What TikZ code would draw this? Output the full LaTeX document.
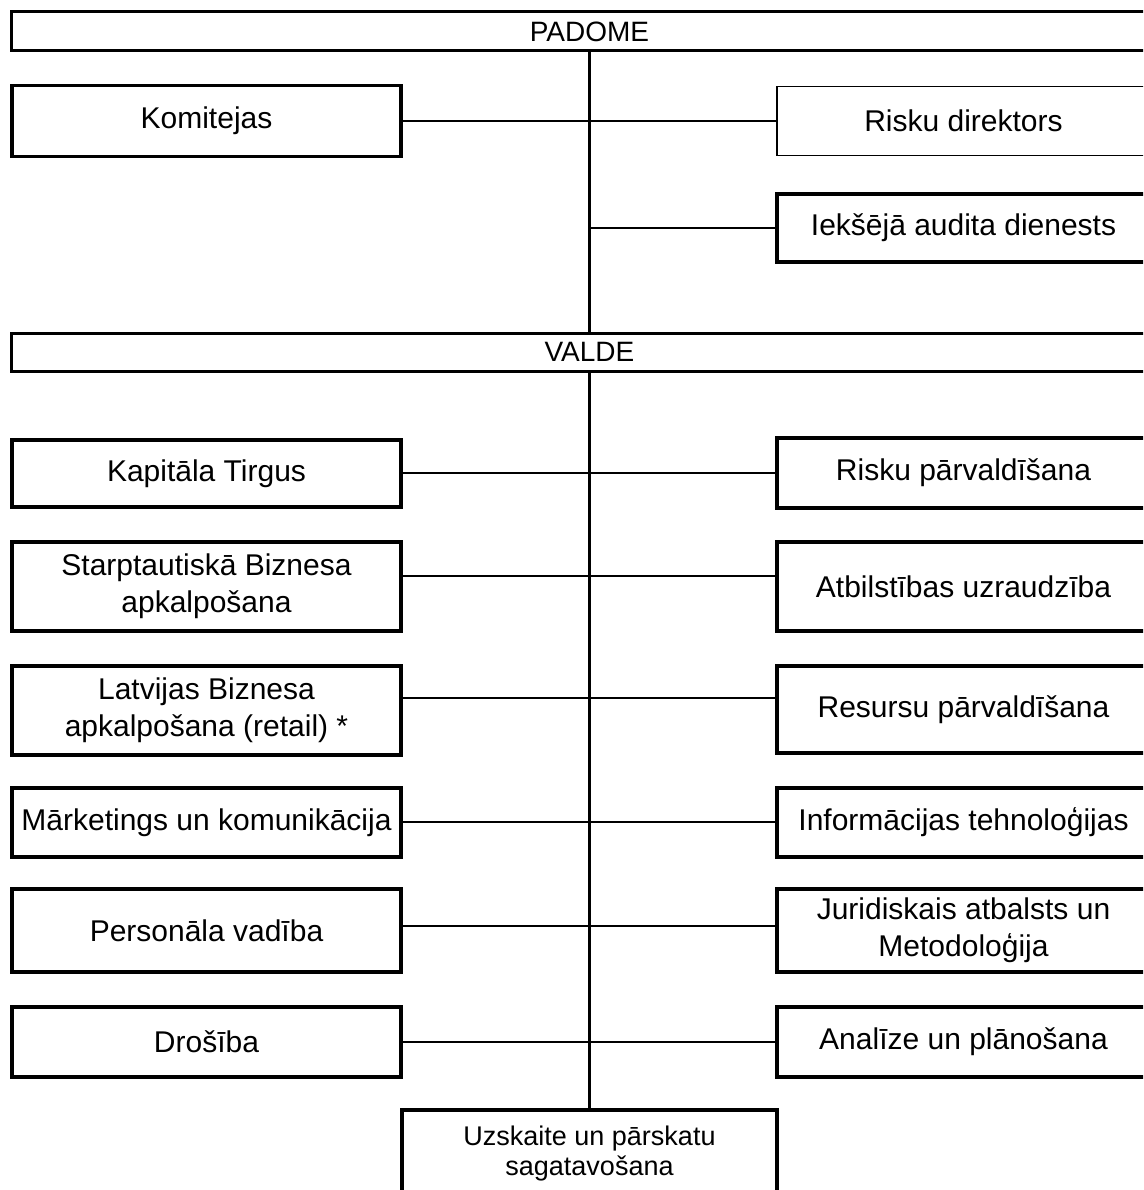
\documentclass[tikz,border=0pt]{standalone}
\usepackage{fontspec}
\setmainfont{Liberation Sans}

\begin{document}
\begin{tikzpicture}[x=1pt, y=-1pt,
  wide/.style = {draw, line width=3pt, minimum width=1156pt, minimum height=39pt,
    inner sep=0pt, font=\fontsize{28}{34}\selectfont},
  lbox/.style = {draw, line width=3.5pt, minimum width=389pt, align=center,
    inner sep=0pt, font=\fontsize{30}{37}\selectfont},
  rbox/.style = {lbox, minimum width=373pt},
  link/.style = {line width=2.3pt},
  trunk/.style = {line width=3pt}]
\useasboundingbox (0,0) rectangle (1143,1190);
\clip (0,0) rectangle (1143,1190);

% top level
\node[wide] (padome) at (589.5,31.5) {PADOME};
\node[lbox, minimum height=71pt] (komitejas) at (206.5,121) {Komitejas};
\node[rbox, minimum height=69pt, line width=1.5pt] (riskdir) at (963.5,121) {Risku direktors};
\node[rbox, minimum height=68pt] (audit) at (963.5,228) {Iekšējā audita dienests};
\node[wide, minimum height=38pt] (valde) at (589.5,352) {VALDE};

% left column
\node[lbox, minimum height=67pt] (l1) at (206.5,473.5) {Kapitāla Tirgus};
\node[lbox, minimum height=89pt] (l2) at (206.5,586.5) {Starptautiskā Biznesa\\apkalpošana};
\node[lbox, minimum height=89pt] (l3) at (206.5,710.5) {Latvijas Biznesa\\apkalpošana (retail) *};
\node[lbox, minimum height=69pt] (l4) at (206.5,822.5) {Mārketings un komunikācija};
\node[lbox, minimum height=83pt] (l5) at (206.5,930.5) {Personāla vadība};
\node[lbox, minimum height=70pt] (l6) at (206.5,1042) {Drošība};

% right column
\node[rbox, minimum height=70pt] (r1) at (963.5,473) {Risku pārvaldīšana};
\node[rbox, minimum height=89pt] (r2) at (963.5,586.5) {Atbilstības uzraudzība};
\node[rbox, minimum height=87pt] (r3) at (963.5,709.5) {Resursu pārvaldīšana};
\node[rbox, minimum height=69pt] (r4) at (963.5,822.5) {Informācijas tehnoloģijas};
\node[rbox, minimum height=83pt] (r5) at (963.5,930.5) {Juridiskais atbalsts un\\Metodoloģija};
\node[rbox, minimum height=70pt] (r6) at (963.5,1042) {Analīze un plānošana};

\node[lbox, minimum width=375pt, minimum height=88pt, font=\fontsize{27}{30}\selectfont]
  (uzskaite) at (589.5,1154) {Uzskaite un pārskatu\\sagatavošana};

% junctions on the trunk
\coordinate (j0) at (589.5,228);
\coordinate (j1) at (589.5,473);
\coordinate (j2) at (589.5,576);
\coordinate (j3) at (589.5,698);
\coordinate (j4) at (589.5,822);
\coordinate (j5) at (589.5,926);
\coordinate (j6) at (589.5,1042);

\draw[trunk] (padome) -- (valde);
\draw[trunk] (valde) -- (uzskaite);
\draw[link] (komitejas) -- (riskdir);
\draw[link] (j0) -- (audit);
\draw[link] (l1.east |- j1) -- (r1.west |- j1);
\draw[link] (l2.east |- j2) -- (r2.west |- j2);
\draw[link] (l3.east |- j3) -- (r3.west |- j3);
\draw[link] (l4.east |- j4) -- (r4.west |- j4);
\draw[link] (l5.east |- j5) -- (r5.west |- j5);
\draw[link] (l6.east |- j6) -- (r6.west |- j6);
\end{tikzpicture}
\end{document}
